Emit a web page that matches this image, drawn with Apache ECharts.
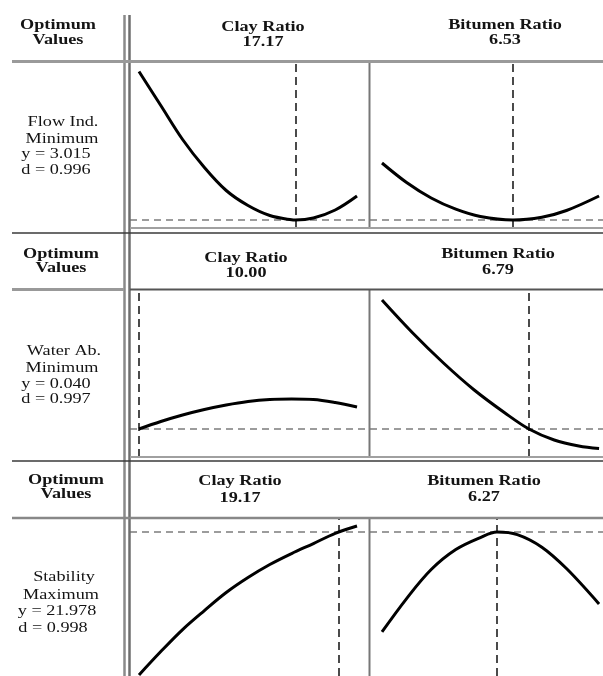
<!DOCTYPE html>
<html><head><meta charset="utf-8">
<script src="https://cdn.jsdelivr.net/npm/echarts@6/dist/echarts.min.js"></script>
<style>html,body{margin:0;padding:0;background:#fff}#c{width:603px;height:676px}</style>
</head><body><div id="c"></div>
<script>
// ---------- DATA ----------
const factorNames = ['Clay Ratio', 'Bitumen Ratio'];
const responseNames = ['Flow Ind.', 'Water Ab.', 'Stability'];
const goals = ['Minimum', 'Minimum', 'Maximum'];
const yOptimum = [3.015, 0.040, 21.978];
const desirability = [0.996, 0.997, 0.998];
const clayOptimum = [17.17, 10.00, 19.17];
const bitumenOptimum = [6.53, 6.79, 6.27];

// Row 1: Flow Ind.
const clayX1 = [10, 11, 12, 13, 14, 15, 16, 17, 17.17, 18, 19, 20];
const flowClay = [4.50, 4.16, 3.82, 3.54, 3.31, 3.16, 3.06, 3.017, 3.015, 3.035, 3.115, 3.255];
const bitX1 = [4.4, 4.8, 5.2, 5.6, 6.0, 6.53, 7.0, 7.4, 7.93];
const flowBit = [3.585, 3.39, 3.235, 3.123, 3.05, 3.015, 3.043, 3.11, 3.255];
// Row 2: Water Ab.
const clayX2 = [10, 11, 12, 13, 14, 15, 16, 17, 18, 19, 20];
const waterClay = [0.040, 0.055, 0.068, 0.079, 0.088, 0.095, 0.099, 0.100, 0.099, 0.093, 0.084];
const bitX2 = [4.4, 4.9, 5.4, 5.9, 6.4, 6.79, 7.2, 7.6, 7.93];
const waterBit = [0.298, 0.232, 0.172, 0.118, 0.072, 0.040, 0.018, 0.006, 0.001];
// Row 3: Stability
const clayX3 = [10, 11, 12, 13, 14, 15, 16, 17, 18, 19, 20];
const stabClay = [14.83, 16.0, 17.1, 18.05, 18.95, 19.7, 20.35, 20.9, 21.4, 21.91, 22.28];
const bitX3 = [4.4, 4.8, 5.2, 5.6, 6.0, 6.27, 6.6, 7.0, 7.4, 7.93];
const stabBit = [16.98, 18.65, 20.1, 21.1, 21.7, 21.978, 21.85, 21.22, 20.15, 18.38];

// ---------- LAYOUT ----------
const rows = [
  {hTop: 15, hBot: 62, pTop: 63, pBot: 228, yMin: 2.935, yMax: 4.585},
  {hTop: 233, hBot: 290, pTop: 290, pBot: 457, yMin: -0.016, yMax: 0.318},
  {hTop: 461, hBot: 518, pTop: 519, pBot: 676, yMin: 14.778, yMax: 22.628}
];
const clayAxis = {min: 9.587, max: 20.55};
const bitAxis = {min: 4.205, max: 7.994};
const clayGrid = {left: 130, width: 239};
const bitGrid = {left: 370, width: 233};

const curves = [
  [clayX1, flowClay, bitX1, flowBit],
  [clayX2, waterClay, bitX2, waterBit],
  [clayX3, stabClay, bitX3, stabBit]
];

const grids = [], xAxes = [], yAxes = [], series = [];
rows.forEach((r, i) => {
  [[clayGrid, clayAxis, clayOptimum[i], curves[i][0], curves[i][1]],
   [bitGrid, bitAxis, bitumenOptimum[i], curves[i][2], curves[i][3]]].forEach((c, j) => {
    const idx = grids.length;
    grids.push({left: c[0].left, width: c[0].width, top: r.pTop, height: r.pBot - r.pTop, show: false});
    xAxes.push({type: 'value', gridIndex: idx, min: c[1].min, max: c[1].max, show: false});
    yAxes.push({type: 'value', gridIndex: idx, min: r.yMin, max: r.yMax, show: false});
    series.push({
      type: 'line', xAxisIndex: idx, yAxisIndex: idx, smooth: 0.35, symbol: 'none',
      lineStyle: {color: '#000', width: 3}, z: 5, silent: true,
      data: c[3].map((x, k) => [x, c[4][k]]),
      markLine: {
        silent: true, symbol: ['none', 'none'], label: {show: false}, animation: false,
        data: [
          {xAxis: c[2], lineStyle: {color: '#1e1e1e', type: [8, 5], width: 1.6}},
          {yAxis: yOptimum[i], lineStyle: {color: '#9c9c9c', type: [7, 5], width: 2}}
        ]
      }
    });
  });
});

// ---------- TEXT & FRAME ----------
const SX = 1.3;
function T(text, x, y, bold) {
  return {type: 'text', x: x, y: y, scaleX: SX, z: 10, silent: true,
    style: {text: text, fill: '#141414', font: (bold ? 'bold ' : '') + '14px "Liberation Serif"',
      align: 'center', verticalAlign: 'middle', textAlign: 'center', textVerticalAlign: 'middle'}};
}
function L(x1, y1, x2, y2, color, w) {
  return {type: 'line', z: 8, silent: true, shape: {x1, y1, x2, y2}, style: {stroke: color, lineWidth: w}};
}
const headerPos = [
  {opt: [58, 25, 40], clay: [263, 27, 42], bit: [505, 25, 40], left: [[63, 122], [62, 139], [56, 154], [56, 170]]},
  {opt: [61, 254, 268], clay: [246, 258, 273], bit: [498, 254, 270], left: [[64, 351], [62, 368], [56, 384], [56, 399]]},
  {opt: [66, 480, 494], clay: [240, 481, 498], bit: [484, 481, 497], left: [[64, 577], [61, 595], [57, 611], [53, 628]]}
];
const graphics = [];
rows.forEach((r, i) => {
  const h = headerPos[i];
  graphics.push(T('Optimum', h.opt[0], h.opt[1], true));
  graphics.push(T('Values', h.opt[0], h.opt[2], true));
  graphics.push(T(factorNames[0], h.clay[0], h.clay[1], true));
  graphics.push(T(clayOptimum[i].toFixed(2), h.clay[0], h.clay[2], true));
  graphics.push(T(factorNames[1], h.bit[0], h.bit[1], true));
  graphics.push(T(bitumenOptimum[i].toFixed(2), h.bit[0], h.bit[2], true));
  const lbl = [responseNames[i], goals[i], 'y = ' + yOptimum[i].toFixed(3), 'd = ' + desirability[i].toFixed(3)];
  lbl.forEach((s, k) => graphics.push(T(s, h.left[k][0], h.left[k][1], false)));
  graphics.push(L(369.5, r.pTop, 369.5, r.pBot, '#777', 2));
});
graphics.push(L(124.5, 15, 124.5, 676, '#8a8a8a', 2.5));
graphics.push(L(129.5, 15, 129.5, 676, '#6e6e6e', 2.5));
graphics.push(L(12, 61.5, 603, 61.5, '#9a9a9a', 3));
graphics.push(L(130, 228, 603, 228, '#a0a0a0', 2));
graphics.push(L(12, 233, 603, 233, '#3a3a3a', 1.5));
graphics.push(L(12, 289.5, 124, 289.5, '#999', 3));
graphics.push(L(130, 289.5, 603, 289.5, '#555', 2));
graphics.push(L(130, 457, 603, 457, '#a0a0a0', 2));
graphics.push(L(12, 461, 603, 461, '#3a3a3a', 1.5));
graphics.push(L(12, 518, 603, 518, '#888', 2.5));

const chart = echarts.init(document.getElementById('c'));
chart.setOption({
  backgroundColor: '#fff', animation: false,
  grid: grids, xAxis: xAxes, yAxis: yAxes, series: series,
  graphic: {elements: graphics}
});
</script></body></html>
